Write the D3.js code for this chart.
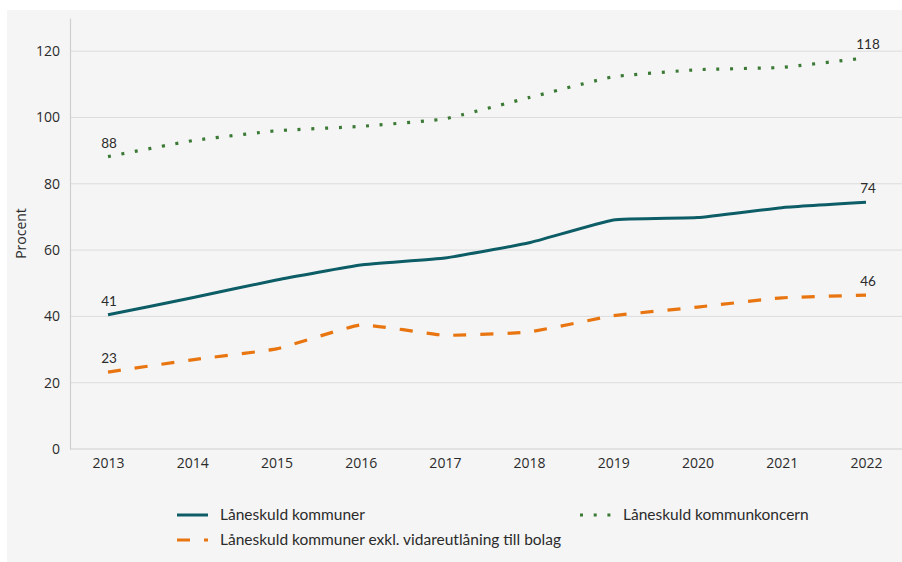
<!DOCTYPE html>
<html>
<head>
<meta charset="utf-8">
<script src="https://cdn.jsdelivr.net/npm/d3@7"></script>
<style>
  html, body { margin: 0; padding: 0; background: #ffffff; }
  svg { display: block; }
  text { font-family: Lato, "Open Sans", sans-serif; fill: #2b2b2b; }
</style>
</head>
<body>
<svg id="chart" width="902" height="562"></svg>
<script>
// Years on the x axis
const years = [2013, 2014, 2015, 2016, 2017, 2018, 2019, 2020, 2021, 2022];
// Låneskuld kommuner (procent)
const kommuner = [40.5, 45.6, 51.0, 55.5, 57.6, 62.2, 69.1, 69.8, 72.8, 74.4];
// Låneskuld kommunkoncern (procent)
const koncern = [88.2, 93.0, 96.0, 97.3, 99.6, 106.0, 112.3, 114.4, 115.1, 118.0];
// Låneskuld kommuner exkl. vidareutlåning till bolag (procent)
const exkl = [23.2, 26.9, 30.2, 37.4, 34.3, 35.3, 40.2, 42.8, 45.6, 46.4];
// Y axis ticks
const yTicks = [0, 20, 40, 60, 80, 100, 120];
// Value labels at first and last year
const firstLabels = ["41", "88", "23"];
const lastLabels = ["74", "118", "46"];

const seriesNames = [
  "Låneskuld kommuner",
  "Låneskuld kommunkoncern",
  "Låneskuld kommuner exkl. vidareutlåning till bolag"
];

const axisFont = "'Open Sans', Lato, sans-serif";

const svg = d3.select("#chart");

// background panel
svg.append("rect")
  .attr("x", 7).attr("y", 10)
  .attr("width", 895).attr("height", 552)
  .attr("fill", "#f5f5f5");

const x = d3.scaleLinear().domain([2013, 2022]).range([108, 866]);
const y = d3.scaleLinear().domain([0, 130]).range([449, 18]);
const plotLeft = 70, plotRight = 902;

// horizontal gridlines
svg.append("g").selectAll("line")
  .data(yTicks.filter(d => d > 0))
  .join("line")
  .attr("x1", plotLeft).attr("x2", plotRight)
  .attr("y1", d => y(d)).attr("y2", d => y(d))
  .attr("stroke", "#dcdcdc").attr("stroke-width", 1);

// y axis
const yAxis = svg.append("g")
  .attr("transform", `translate(${plotLeft},0)`)
  .call(d3.axisLeft(y).tickValues(yTicks).tickSize(0).tickPadding(10));
yAxis.select(".domain").attr("stroke", "#cfcfcf").attr("stroke-width", 1.2);
yAxis.selectAll("text").attr("font-size", 14).attr("fill", "#333")
  .style("font-family", axisFont);

// x axis
const xAxis = svg.append("g")
  .attr("transform", `translate(0,${y(0)})`)
  .call(d3.axisBottom(x).tickValues(years).tickFormat(d3.format("d")).tickSize(0).tickPadding(9));
xAxis.select(".domain").remove();
svg.append("line")
  .attr("x1", plotLeft).attr("x2", plotRight)
  .attr("y1", y(0)).attr("y2", y(0))
  .attr("stroke", "#cfcfcf").attr("stroke-width", 1.2);
xAxis.selectAll("text").attr("font-size", 14).attr("fill", "#333")
  .style("font-family", axisFont);

// y axis title
svg.append("text")
  .attr("transform", `translate(26,${y(65)}) rotate(-90)`)
  .attr("text-anchor", "middle")
  .attr("font-size", 14)
  .attr("fill", "#333")
  .style("font-family", axisFont)
  .text("Procent");

const styles = [
  { data: kommuner, color: "#0c5d66", dash: null, width: 3 },
  { data: koncern, color: "#3b7a35", dash: "3,10.7", width: 3.2 },
  { data: exkl, color: "#e8750f", dash: "13,14", width: 3.2 }
];

const line = d3.line()
  .x((d, i) => x(years[i]))
  .y(d => y(d))
  .curve(d3.curveCardinal.tension(0.65));

styles.forEach(s => {
  svg.append("path")
    .datum(s.data)
    .attr("d", line)
    .attr("fill", "none")
    .attr("stroke", s.color)
    .attr("stroke-width", s.width)
    .attr("stroke-dasharray", s.dash);
});

// value labels at ends
styles.forEach((s, i) => {
  svg.append("text")
    .attr("x", x(years[0]) + 1)
    .attr("y", y(s.data[0]) - 9)
    .attr("text-anchor", "middle")
    .attr("font-size", 13.5)
    .text(firstLabels[i]);
  const n = s.data.length - 1;
  svg.append("text")
    .attr("x", x(years[n]) + 2)
    .attr("y", y(s.data[n]) - 9)
    .attr("text-anchor", "middle")
    .attr("font-size", 13.5)
    .text(lastLabels[i]);
});

// legend
const legendItems = [
  { name: seriesNames[0], style: styles[0], x: 177, y: 515 },
  { name: seriesNames[1], style: styles[1], x: 580, y: 515 },
  { name: seriesNames[2], style: styles[2], x: 177, y: 540 }
];
const legend = svg.append("g");
legendItems.forEach(it => {
  legend.append("line")
    .attr("x1", it.x).attr("x2", it.x + 31)
    .attr("y1", it.y).attr("y2", it.y)
    .attr("stroke", it.style.color)
    .attr("stroke-width", it.style.width)
    .attr("stroke-dasharray", it.style.dash);
  legend.append("text")
    .attr("x", it.x + 43)
    .attr("y", it.y)
    .attr("dy", "0.35em")
    .attr("font-size", 15.5)
    .attr("fill", "#222")
    .text(it.name);
});
</script>
</body>
</html>
